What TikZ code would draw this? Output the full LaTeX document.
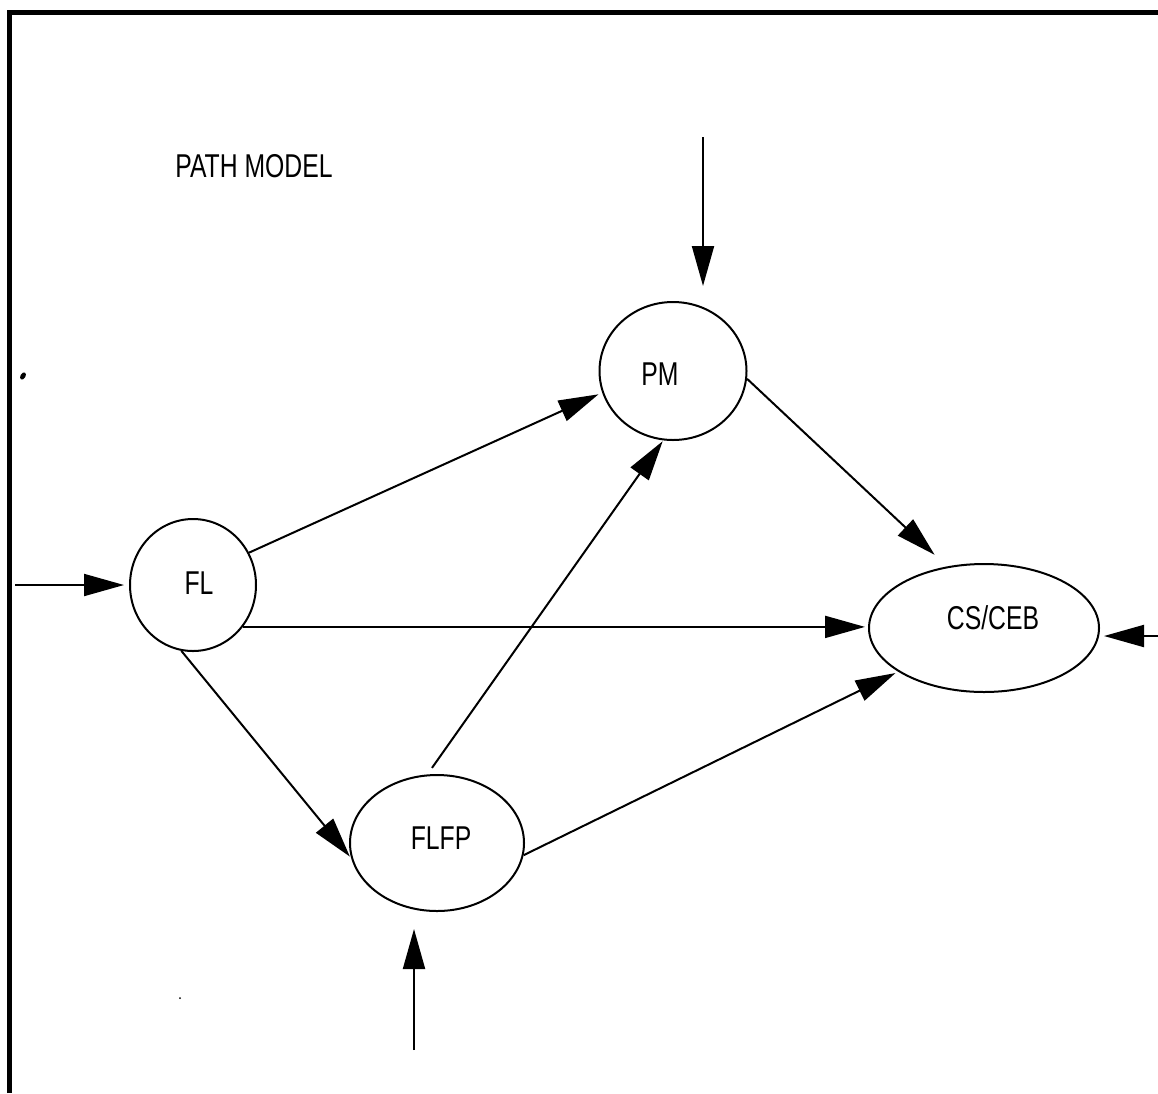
\documentclass[tikz,border=0pt]{standalone}
\usepackage{fontspec}
\setmainfont{Liberation Sans}[FakeStretch=0.75]
\usetikzlibrary{arrows.meta,shapes.geometric}
\begin{document}
\begin{tikzpicture}[x=1pt,y=-1pt,
  var/.style={draw, ellipse, line width=2pt, inner sep=0pt},
  lbl/.style={font=\fontsize{33}{33}\selectfont, inner sep=0pt, text depth=0pt},
  arr/.style={line width=2pt, -{Triangle[length=40pt,width=22pt]}},
]
\useasboundingbox (0,0) rectangle (1158,1093);

% frame (top and left edges)
\draw[line width=4.5pt] (9.5,1093) -- (9.5,12.5) -- (1158,12.5);

% title
\node[lbl] (title) at (254,166) {PATH MODEL};

% variables
\node[var, minimum width=147pt, minimum height=138pt] (pm)   at (673,371) {};
\node[var, minimum width=126pt, minimum height=132pt] (fl)   at (193,585) {};
\node[var, minimum width=174pt, minimum height=136pt] (flfp) at (437,843) {};
\node[var, minimum width=230pt, minimum height=128pt] (cs)   at (984,628) {};

\node[lbl] (pmt)   at (660,374) {PM};
\node[lbl] (flt)   at (199,583) {FL};
\node[lbl] (flfpt) at (441,838) {FLFP};
\node[lbl] (cst)   at (993,618) {CS/CEB};

% external inputs
\coordinate (inL)   at (15,585);
\coordinate (inTop) at (703,137);
\coordinate (inBot) at (414,1050);
\coordinate (inR)   at (1158,636);

\draw[arr, shorten >=5pt]  (inL) -- (fl.west);
\draw[arr, shorten >=15pt] (inTop) -- (inTop |- pm.north);
\draw[arr, shorten >=17pt] (inBot) -- (inBot |- flfp.south);
\draw[arr, shorten >=4pt]  (inR) -- (inR -| cs.east);

% paths
\draw[arr, shorten >=4pt]  (fl.30) -- (pm.197);
\draw[arr, shorten >=3pt]  (fl.-40) -- (fl.-40 -| cs.west);
\draw[arr, shorten >=2pt]  (fl.-100) -- (flfp.190);
\draw[arr, shorten <=8pt, shorten >=1pt] (flfp.98) -- (pm.-98);
\draw[arr, shorten >=17pt] (pm.-6) -- (cs.121);
\draw[arr, shorten >=3pt]  (flfp.-8) -- (cs.207);

% specks
\fill[rotate around={60:(23,376)}] (23,376) ellipse (4pt and 2.5pt);
\fill (180,998) circle (1pt);
\end{tikzpicture}
\end{document}
